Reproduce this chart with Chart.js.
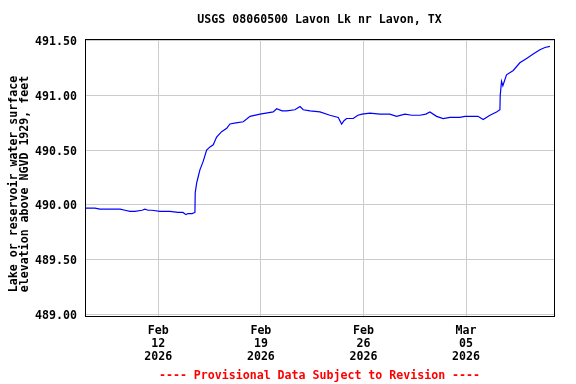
<!DOCTYPE html>
<html>
<head>
<meta charset="utf-8">
<script src="https://cdn.jsdelivr.net/npm/chart.js@4"></script>
<style>
  html, body { margin: 0; padding: 0; background: #ffffff; }
  #wrap { width: 576px; height: 384px; position: relative; }
</style>
</head>
<body>
<div id="wrap"><canvas id="c" width="576" height="384"></canvas></div>
<script>
// Days since 2026-02-07 00:00
const days = [0.00, 0.68, 1.02, 1.36, 1.70, 2.39, 2.73, 3.07, 3.41, 3.89, 4.09, 4.30, 4.57, 5.12, 5.80, 6.34, 6.68, 6.89, 7.03, 7.30, 7.50,
  7.52, 7.62, 7.71, 7.84, 8.07, 8.30, 8.53, 8.75, 8.98, 9.32, 9.67, 9.89, 10.30, 10.80, 11.26, 11.94, 12.35, 12.84, 13.08, 13.44,
  13.76, 14.32, 14.67, 14.89, 15.35, 16.03, 16.71, 17.28, 17.51, 17.67, 17.85, 18.30, 18.62, 18.90, 19.44, 20.12, 20.80, 21.26,
  21.83, 22.30, 22.85, 23.26, 23.53, 23.99, 24.44, 24.90, 25.58, 25.92, 26.26, 26.81, 27.17, 27.63, 28.08, 28.31,
  28.33, 28.42, 28.51, 28.76, 29.22, 29.67, 30.13, 30.58, 31.04, 31.38, 31.72];
const elevations = [489.97, 489.97, 489.96, 489.96, 489.96, 489.96, 489.95, 489.94, 489.94, 489.95, 489.96, 489.95, 489.95, 489.94, 489.94, 489.93, 489.93, 489.91, 489.92, 489.92, 489.93,
  490.11, 490.20, 490.25, 490.32, 490.40, 490.50, 490.53, 490.55, 490.62, 490.67, 490.70, 490.74, 490.75, 490.76, 490.81, 490.83, 490.84, 490.85, 490.88, 490.86,
  490.86, 490.87, 490.90, 490.87, 490.86, 490.85, 490.82, 490.80, 490.74, 490.77, 490.79, 490.79, 490.82, 490.83, 490.84, 490.83, 490.83, 490.81,
  490.83, 490.82, 490.82, 490.83, 490.85, 490.81, 490.79, 490.80, 490.80, 490.81, 490.81, 490.81, 490.78, 490.82, 490.85, 490.87,
  491.00, 491.13, 491.09, 491.19, 491.23, 491.30, 491.34, 491.38, 491.42, 491.44, 491.45];
const xTickDays = [5, 12, 19, 26];
const xTickLabels = [["Feb", "12", "2026"], ["Feb", "19", "2026"], ["Feb", "26", "2026"], ["Mar", "05", "2026"]];
const yTicks = [489.00, 489.50, 490.00, 490.50, 491.00, 491.50];
const titleText = "USGS 08060500 Lavon Lk nr Lavon, TX";
const yTitle = ["Lake or reservoir water surface", "elevation above NGVD 1929, feet"];
const footerText = "---- Provisional Data Subject to Revision ----";

const FONT = "'DejaVu Sans Mono', monospace";
const points = days.map((d, i) => ({ x: d, y: elevations[i] }));

const textPlugin = {
  id: 'textPlugin',
  afterDraw(chart) {
    const ctx = chart.ctx;
    const ca = chart.chartArea;
    ctx.save();
    ctx.strokeStyle = '#000000';
    ctx.lineWidth = 1;
    ctx.strokeRect(Math.round(ca.left) + 0.5, Math.round(ca.top) + 0.5,
      Math.round(ca.right - ca.left), Math.round(ca.bottom - ca.top));
    const cx = (ca.left + ca.right) / 2;
    ctx.textAlign = 'center';
    ctx.textBaseline = 'middle';
    ctx.font = "bold 11.6px " + FONT;
    ctx.fillStyle = '#000000';
    ctx.fillText(titleText, cx, 20);
    ctx.fillStyle = '#ff0000';
    ctx.fillText(footerText, cx, 376);
    // rotated y-axis title, two lines
    ctx.fillStyle = '#000000';
    ctx.translate(0, 184);
    ctx.rotate(-Math.PI / 2);
    ctx.fillText(yTitle[0], 0, 13.5);
    ctx.fillText(yTitle[1], 0, 25);
    ctx.restore();
  }
};

new Chart(document.getElementById('c'), {
  type: 'line',
  data: {
    datasets: [{
      data: points,
      borderColor: '#0000ff',
      borderWidth: 1.2,
      pointRadius: 0,
      tension: 0,
      fill: false
    }]
  },
  options: {
    responsive: false,
    animation: false,
    devicePixelRatio: 1,
    layout: { padding: { top: 39, right: 22, left: 0, bottom: 0 } },
    plugins: { legend: { display: false }, tooltip: { enabled: false }, title: { display: false } },
    scales: {
      x: {
        type: 'linear',
        min: 0,
        max: 32,
        afterBuildTicks(scale) { scale.ticks = xTickDays.map(v => ({ value: v })); },
        afterFit(scale) { scale.height = 68; },
        ticks: {
          autoSkip: false,
          maxRotation: 0,
          padding: 9,
          color: '#000000',
          font: { family: FONT, size: 11.6, weight: 'bold', lineHeight: 1.1 },
          callback(value, index) { return xTickLabels[index]; }
        },
        grid: { color: '#cccccc', lineWidth: 1, drawTicks: false },
        border: { display: true, color: '#000000', width: 1 }
      },
      y: {
        type: 'linear',
        min: 488.982,
        max: 491.518,
        afterBuildTicks(scale) { scale.ticks = yTicks.map(v => ({ value: v })); },
        afterFit(scale) { scale.width = 85; },
        ticks: {
          padding: 8,
          labelOffset: 1.5,
          color: '#000000',
          font: { family: FONT, size: 11.6, weight: 'bold' },
          callback(value) { return Number(value).toFixed(2); }
        },
        grid: { color: '#cccccc', lineWidth: 1, drawTicks: false },
        border: { display: true, color: '#000000', width: 1 },
        title: { display: false }
      }
    }
  },
  plugins: [textPlugin]
});
</script>
</body>
</html>
